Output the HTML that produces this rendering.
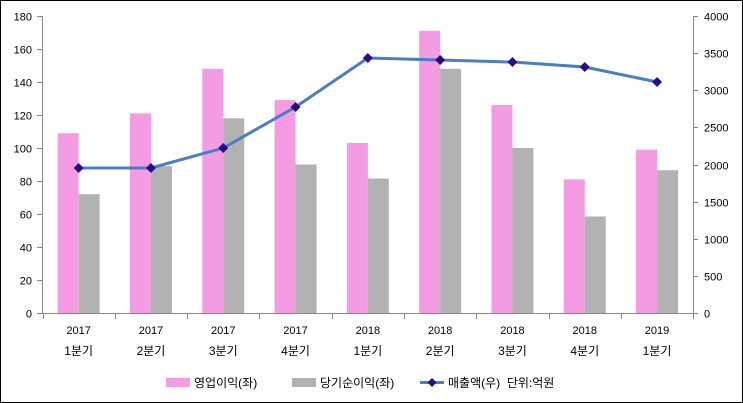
<!DOCTYPE html>
<html><head><meta charset="utf-8"><style>
html,body{margin:0;padding:0;background:#fff}
svg{display:block}
text{font-family:"Liberation Sans","Noto Sans CJK KR",sans-serif;font-size:11px;fill:#000}
</style></head><body>
<svg width="743" height="403" viewBox="0 0 743 403" xmlns="http://www.w3.org/2000/svg">
<rect x="0.5" y="0.5" width="742" height="402" fill="#fff" stroke="#000"/>
<g id="bars"></g>
<g stroke="#888" stroke-width="1" shape-rendering="crispEdges">
<line x1="42.5" y1="16" x2="42.5" y2="313"/>
<line x1="693.5" y1="16" x2="693.5" y2="313"/>
<line x1="42" y1="313.5" x2="693" y2="313.5"/>
</g>
<g id="ticks" stroke="#888" shape-rendering="crispEdges"></g>
<g id="labels"></g>
<polyline id="line" fill="none" stroke="#4a7ec4" stroke-width="3"/>
<g id="marks" fill="#2a0a8a"></g>
<rect x="166" y="378" width="24" height="9" fill="#f49ce3"/>
<text x="194" y="387" style="font-size:12px">영업이익(좌)</text>
<rect x="292" y="378" width="24" height="9" fill="#b2b2b2"/>
<text x="320" y="387" style="font-size:12px">당기순이익(좌)</text>
<line x1="420" y1="382.5" x2="444" y2="382.5" stroke="#4a7ec4" stroke-width="3"/>
<path d="M432 378 L436.5 382.5 L432 387 L427.5 382.5Z" fill="#2a0a8a"/>
<text x="448" y="387" style="font-size:12px">매출액(우)&#160;&#160;단위:억원</text>
<script>
var ns="http://www.w3.org/2000/svg";
function el(t,a,p,txt){var e=document.createElementNS(ns,t);for(var k in a)e.setAttribute(k,a[k]);if(txt!=null)e.textContent=txt;document.getElementById(p).appendChild(e);return e;}
var x0=42.5,w=72.3,yb=313,s=297/180;
var pk=[109,121,148,129,103,171,126,81,99],gy=[72,89,118,90,81.5,148,100,58.5,86.5];
var ln=[1953,1953,2222,2774,3434,3407,3380,3313,3111];
var yr=["2017","2017","2017","2017","2018","2018","2018","2018","2019"],q=["1분기","2분기","3분기","4분기","1분기","2분기","3분기","4분기","1분기"];
var pts=[];
for(var i=0;i<9;i++){var c=x0+w*(i+0.5);
el("rect",{x:c-21,y:yb-pk[i]*s,width:21,height:pk[i]*s,fill:"#f49ce3"},"bars");
el("rect",{x:c,y:yb-gy[i]*s,width:21,height:gy[i]*s,fill:"#b2b2b2"},"bars");
el("text",{x:c,y:334,"text-anchor":"middle"},"labels",yr[i]);
el("text",{x:c,y:355,"text-anchor":"middle",style:"font-size:12px"},"labels",q[i]);
var py=yb-ln[i]/4000*297;pts.push(c+","+py);
el("path",{d:"M"+c+" "+(py-5)+" L"+(c+5)+" "+py+" L"+c+" "+(py+5)+" L"+(c-5)+" "+py+"Z"},"marks");
}
document.getElementById("line").setAttribute("points",pts.join(" "));
for(var i=0;i<=9;i++){var x=Math.round(x0+w*i)+0.5;el("line",{x1:x,y1:313,x2:x,y2:319},"ticks");}
for(var v=0;v<=180;v+=20){var y=Math.round(yb-v*s)+0.5;el("line",{x1:37,y1:y,x2:42,y2:y},"ticks");el("text",{x:32,y:y+4,"text-anchor":"end"},"labels",v);}
for(var v=0;v<=4000;v+=500){var y=Math.round(yb-v/4000*297)+0.5;el("line",{x1:693,y1:y,x2:698,y2:y},"ticks");el("text",{x:704,y:y+4},"labels",v);}
</script>
</svg>
</body></html>
